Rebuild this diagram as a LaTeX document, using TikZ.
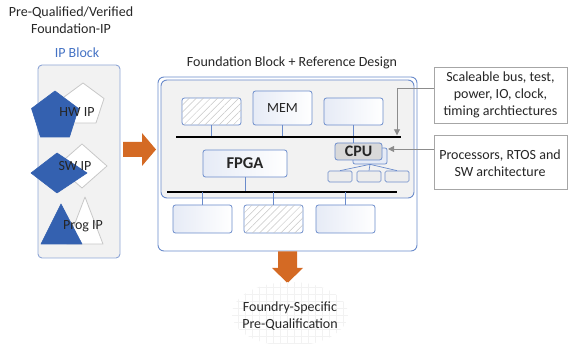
\documentclass[tikz,border=0pt]{standalone}
\usepackage{fontspec}
\setmainfont{Carlito}
\usetikzlibrary{patterns.meta,arrows.meta}

\definecolor{ink}{HTML}{262626}
\definecolor{edgeblue}{HTML}{6A8BCB}
\definecolor{panelblue}{HTML}{8EA6D6}
\definecolor{shapeblue}{HTML}{3461B0}
\definecolor{titleblue}{HTML}{4472C4}
\definecolor{tint}{HTML}{E6EBF6}
\definecolor{panel}{HTML}{F2F2F2}
\definecolor{orangearrow}{HTML}{D46A24}
\definecolor{callout}{HTML}{A6A6A6}
\definecolor{pointer}{HTML}{8C8C8C}
\definecolor{ghost}{HTML}{C8C8C8}

\begin{document}
\begin{tikzpicture}[x=1pt,y=-1pt,
  txt/.style={text=ink, font=\fontsize{14}{17}\selectfont, align=center, inner sep=0},
  blk/.style={draw=edgeblue, line width=0.8pt, rounded corners=2.5pt,
    left color=tint, right color=white, inner sep=0, minimum width=59pt, minimum height=27pt},
  hatched/.style={draw=edgeblue, line width=0.8pt, rounded corners=2.5pt, fill=white,
    inner sep=0, minimum width=59pt, minimum height=27pt,
    postaction={pattern={Lines[angle=45,distance=5pt,line width=0.5pt]}, pattern color=black!22}},
  dotbox/.style={draw=edgeblue, line width=0.7pt, rounded corners=1.5pt, fill=panel,
    inner sep=0, minimum width=24pt, minimum height=11pt,
    postaction={pattern={Dots[distance=2pt,radius=0.35pt]}, pattern color=black!25}},
  link/.style={draw=edgeblue, line width=0.8pt},
  bus/.style={draw=black, line width=2.6pt},
  calloutbox/.style={draw=callout, line width=0.8pt, fill=white, inner sep=0,
    minimum width=133pt, minimum height=55pt},
  pointerline/.style={draw=pointer, line width=0.9pt, -{Triangle[length=6pt,width=6pt]}},
  blueshape/.style={fill=shapeblue, draw=shapeblue, line width=0.6pt, line join=round},
  ghostshape/.style={fill=white, draw=ghost, line width=0.8pt, line join=round},
  bigarrow/.style={fill=orangearrow, draw=none}
]
\useasboundingbox (0,0) rectangle (568,344);

% ---------------- left column: IP block ----------------
\node[txt] (title) at (71,20.5) {Pre-Qualified/Verified\\Foundation-IP};
\node[txt, text=titleblue] (ipblocklabel) at (77,53) {IP Block};
\draw[draw=panelblue, fill=panel, line width=0.9pt, rounded corners=4pt] (38,65) rectangle (120,258);

% hardware IP: pentagons
\draw[ghostshape] (83,83) -- (104,98.5) -- (96,123) -- (70,123) -- (62,98.5) -- cycle;
\draw[blueshape] (55,91) -- (78.5,108.5) -- (69.5,137) -- (40.5,137) -- (31.5,108.5) -- cycle;
\node[txt] (hw) at (77,112) {HW IP};

% software IP: diamonds
\draw[ghostshape] (82,144) -- (107,166) -- (82,188) -- (57,166) -- cycle;
\draw[blueshape] (57,153) -- (87,173) -- (57,193) -- (31,173) -- cycle;
\node[txt] (sw) at (75,166) {SW IP};

% programmable IP: triangles
\draw[ghostshape] (85,197) -- (103,244) -- (67,244) -- cycle;
\draw[blueshape] (61,204) -- (82,244) -- (41,244) -- cycle;
\node[txt] (prog) at (83,226) {Prog IP};

% arrow into the foundation block
\draw[bigarrow] (123,142) -- (142,142) -- (142,133) -- (156,149.5) -- (142,166) -- (142,157) -- (123,157) -- cycle;

% ---------------- foundation block ----------------
\node[txt] (fbtitle) at (292,63) {Foundation Block + Reference Design};
\draw[draw=edgeblue, fill=white, line width=0.9pt, rounded corners=6pt] (158,77) rectangle (417,251);
\draw[draw=edgeblue, fill=panel, line width=0.9pt, rounded corners=6pt] (161,80) rectangle (414,198);

% top row and system bus
\coordinate (busTL) at (176,137);
\coordinate (busTR) at (401,137);
\node[hatched] (hatchA) at (211.5,111.5) {};
\node[blk, minimum height=34pt] (mem) at (282.5,108) {};
\node[txt] (memlabel) at (mem.center) {MEM};
\node[blk] (topR) at (353.5,111.5) {};
\draw[link] (hatchA.south) -- (hatchA.south |- busTL);
\draw[link] (mem.south) -- (mem.south |- busTL);

% processor cluster
\node[draw=edgeblue, line width=0.7pt, rounded corners=2pt, fill=tint, inner sep=0,
      minimum width=34pt, minimum height=16pt] (cpuback) at (370,156) {};
\node[draw=edgeblue, line width=0.8pt, rounded corners=2.5pt, fill=black!15, inner sep=0,
      minimum width=47pt, minimum height=17pt, text=ink,
      font=\bfseries\fontsize{16}{17}\selectfont] (cpu) at (358.5,151.5) {CPU};
\draw[link] (topR.south) -- (topR.south |- cpu.north);
\draw[bus] (busTL) -- (busTR);
\node[dotbox] (subA) at (340,176.5) {};
\node[dotbox] (subB) at (369,176.5) {};
\node[dotbox] (subC) at (397,176.5) {};
\draw[link, line width=0.7pt] (cpuback.south) -- (subA.north);
\draw[link, line width=0.7pt] (cpuback.south) -- (subB.north);
\draw[link, line width=0.7pt] (cpuback.south) -- (subC.north);

% programmable fabric and peripheral bus
\coordinate (busBL) at (167,192);
\coordinate (busBR) at (397,192);
\node[blk, minimum width=84pt, text=ink, font=\bfseries\fontsize{16.5}{17}\selectfont] (fpga) at (245,163.5) {FPGA};
\draw[link] (fpga.south) -- (fpga.south |- busBL);
\draw[bus] (busBL) -- (busBR);

% bottom row
\node[blk, minimum height=28pt] (botA) at (202.5,219) {};
\node[hatched, minimum height=28pt] (botB) at (273.5,219) {};
\node[blk, minimum height=28pt] (botC) at (345.5,219) {};
\draw[link] (botA.north |- busBL) -- (botA.north);
\draw[link] (botB.north |- busBL) -- (botB.north);
\draw[link] (botC.north |- busBL) -- (botC.north);

% ---------------- callouts ----------------
\node[calloutbox, minimum height=56pt] (busnote) at (500.5,95) {};
\node[txt] (busnotetext) at (busnote.center) {Scaleable bus, test,\\power, IO, clock,\\timing archtiectures};
\node[calloutbox, minimum height=54pt] (cpunote) at (500.5,162) {};
\node[txt] (cpunotetext) at (500,163) {Processors, RTOS and\\SW architecture};

\coordinate (busbend) at (397,88);
\coordinate (bushit) at (397,135.3);
\draw[pointerline] (busnote.west |- busbend) -- (busbend) -- (bushit);
\coordinate (cpuhit) at (388,149);
\draw[pointerline] (cpunote.west |- cpuhit) -- (cpuhit);

% ---------------- output ----------------
\draw[bigarrow] (278,251.5) -- (297,251.5) -- (297,268) -- (303,268) -- (287.5,283) -- (272,268) -- (278,268) -- cycle;
\begin{scope}
  \clip (290,314) ellipse [x radius=58pt, y radius=32pt];
  \draw[black!5, line width=0.4pt, step=7pt] (228,280) grid (352,350);
\end{scope}
\node[txt] (foundry) at (290,316) {Foundry-Specific\\Pre-Qualification};
\end{tikzpicture}
\end{document}
